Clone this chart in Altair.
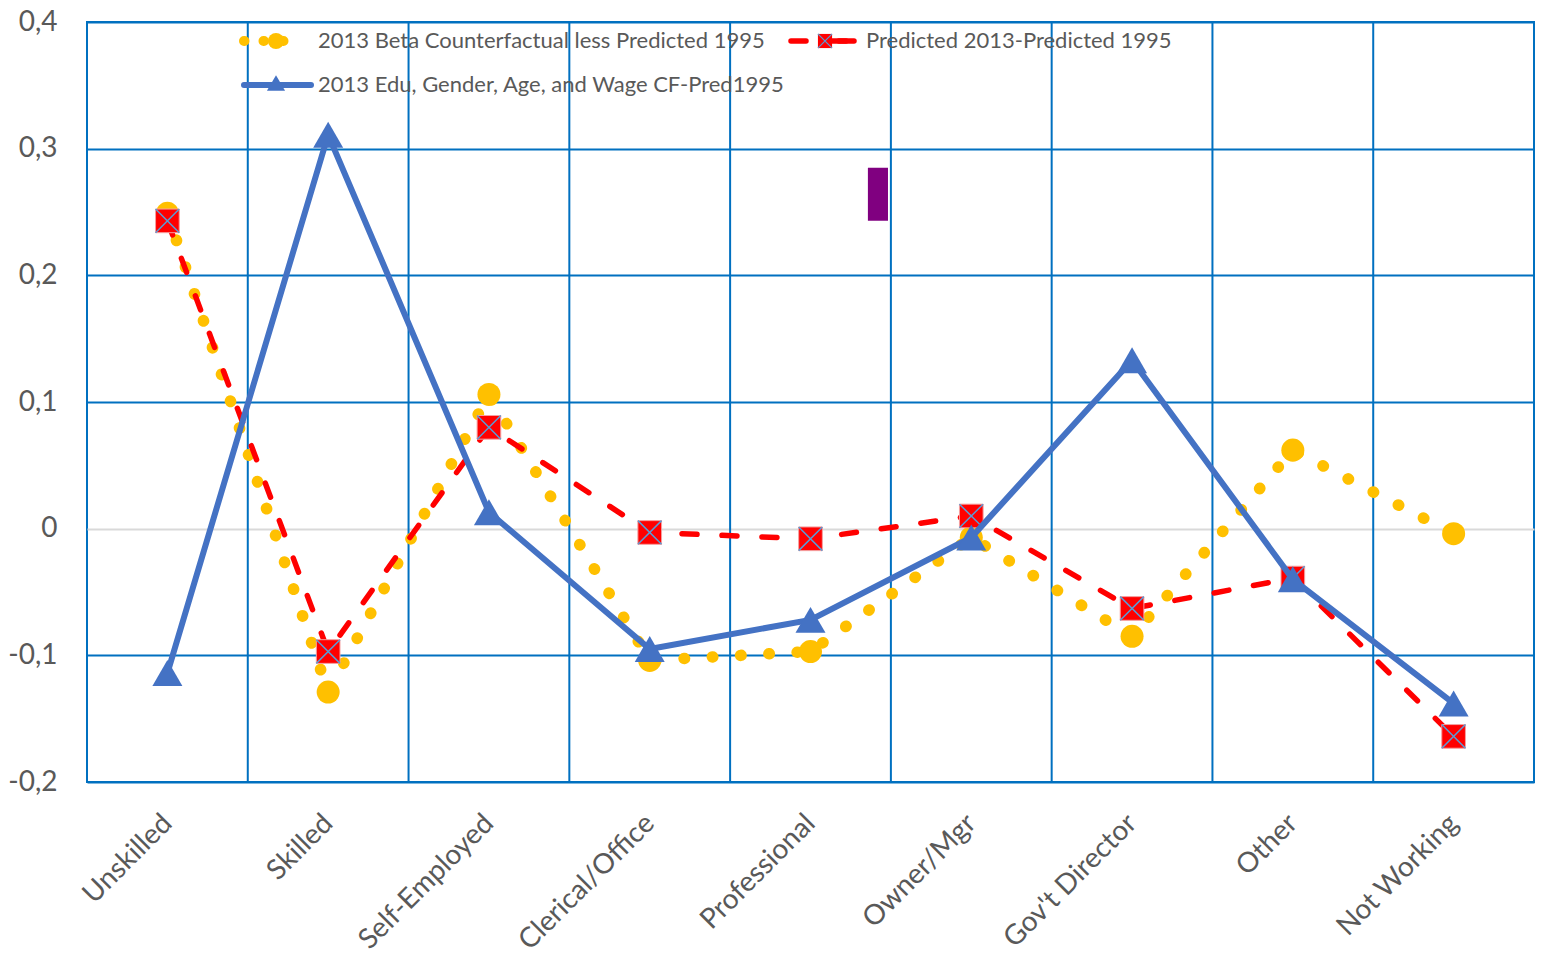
import json
import altair as alt
import pandas as pd

categories = ["Unskilled", "Skilled", "Self-Employed", "Clerical/Office", "Professional",
              "Owner/Mgr", "Gov't Director", "Other", "Not Working"]
beta_cf = [0.249, -0.129, 0.106, -0.104, -0.097, -0.007, -0.085, 0.062, -0.004]
predicted = [0.243, -0.097, 0.080, -0.003, -0.008, 0.010, -0.063, -0.039, -0.164]
edu_cf = [-0.114, 0.311, 0.013, -0.095, -0.072, -0.007, 0.133, -0.040, -0.138]
y_ticks = [-0.2, -0.1, 0.0, 0.1, 0.2, 0.3, 0.4]
boundaries = [1, 2, 3, 4, 5, 6, 7, 8]
purple_box = {"x0": [4.857], "x1": [4.982], "y0": [0.243], "y1": [0.285]}

names = ["2013 Beta Counterfactual less Predicted 1995",
         "Predicted 2013-Predicted 1995",
         "2013 Edu, Gender, Age, and Wage CF-Pred1995"]

BLUE_GRID = "#0070C0"
YELLOW = "#FFC000"
RED = "#FF0000"
BLUE = "#4472C4"
TEXT = "#595959"
FONT = "Lato"

df = pd.DataFrame({
    "pos": [i + 0.5 for i in range(len(categories))],
    "category": categories,
    "beta": beta_cf,
    "pred": predicted,
    "edu": edu_cf,
})

label_expr = json.dumps(categories) + "[floor(datum.value)]"
x_scale = alt.Scale(domain=[0, 9], nice=False, zero=False)
y_scale = alt.Scale(domain=[-0.2, 0.4], nice=False, zero=False)

x_axis = alt.Axis(values=[i + 0.5 for i in range(len(categories))], labelExpr=label_expr,
                  labelAngle=-45, labelAlign="right", labelBaseline="middle",
                  labelFont=FONT, labelFontSize=28, labelColor=TEXT, labelPadding=37,
                  grid=False, ticks=False, domain=False, title=None)
y_axis = alt.Axis(values=y_ticks,
                  labelExpr="abs(datum.value) < 1e-9 ? '0' : replace(replace(format(datum.value, '.1f'), '.', ','), '\u2212', '-')",
                  grid=True, gridWidth=2,
                  gridColor={"condition": {"test": "abs(datum.value) < 1e-9", "value": "#D9D9D9"}, "value": BLUE_GRID},
                  labelFont=FONT, labelFontSize=28, labelColor=TEXT, labelPadding=30,
                  ticks=False, domain=False, title=None)


def xq(field):
    return alt.X(field, scale=x_scale, axis=x_axis)


def yq(field):
    return alt.Y(field, scale=y_scale, axis=y_axis)


base = alt.Chart(df)

vgrid = alt.Chart(pd.DataFrame({"b": boundaries})).mark_rule(color=BLUE_GRID, strokeWidth=2).encode(
    x=xq("b:Q"))

purple = alt.Chart(pd.DataFrame(purple_box)).mark_rect(color="#800080").encode(
    x=xq("x0:Q"), x2="x1:Q", y=yq("y0:Q"), y2="y1:Q")

yellow_line = base.mark_line(color=YELLOW, strokeWidth=11.5, strokeDash=[0.5, 27.8], strokeCap="round").encode(
    x=xq("pos:Q"), y=yq("beta:Q"))
yellow_pts = base.mark_point(shape="circle", filled=True, color=YELLOW, size=530, opacity=1).encode(
    x=xq("pos:Q"), y=yq("beta:Q"))

red_line = base.mark_line(color=RED, strokeWidth=5.5, strokeDash=[15, 25], strokeCap="round").encode(
    x=xq("pos:Q"), y=yq("pred:Q"))
red_sq = base.mark_point(shape="square", filled=True, color=RED, size=560, opacity=1,
                         stroke="#F4A0A0", strokeWidth=1).encode(x=xq("pos:Q"), y=yq("pred:Q"))
red_x = base.mark_point(shape="M-1,-1L1,1M1,-1L-1,1", filled=False, color="#5B9BD5", size=560,
                        strokeWidth=1.5, opacity=1).encode(x=xq("pos:Q"), y=yq("pred:Q"))

blue_line = base.mark_line(color=BLUE, strokeWidth=6).encode(x=xq("pos:Q"), y=yq("edu:Q"))
blue_tri = base.mark_point(shape="triangle-up", filled=True, color=BLUE, size=900, opacity=1).encode(
    x=xq("pos:Q"), y=yq("edu:Q"))

one = alt.Chart(pd.DataFrame({"a": [0]}))
legend = [
    one.mark_rule(color=YELLOW, strokeWidth=10, strokeDash=[0.5, 19], strokeCap="round").encode(
        x=alt.value(157), x2=alt.value(215), y=alt.value(19)),
    one.mark_point(shape="circle", filled=True, color=YELLOW, size=260, opacity=1).encode(
        x=alt.value(189), y=alt.value(19)),
    one.mark_text(text=names[0], align="left", baseline="middle", font=FONT, fontSize=22, color=TEXT).encode(
        x=alt.value(231), y=alt.value(19)),
    one.mark_rule(color=RED, strokeWidth=5.5, strokeCap="round", strokeDash=[15, 25]).encode(
        x=alt.value(704), x2=alt.value(767), y=alt.value(19)),
    one.mark_rule(color=RED, strokeWidth=5.5, strokeCap="round").encode(
        x=alt.value(752), x2=alt.value(767), y=alt.value(19)),
    one.mark_point(shape="square", filled=True, color=RED, size=200, opacity=1).encode(
        x=alt.value(738), y=alt.value(19)),
    one.mark_point(shape="M-1,-1L1,1M1,-1L-1,1", filled=False, color="#5B9BD5", size=200,
                   strokeWidth=1.2, opacity=1).encode(x=alt.value(738), y=alt.value(19)),
    one.mark_text(text=names[1], align="left", baseline="middle", font=FONT, fontSize=22, color=TEXT).encode(
        x=alt.value(779), y=alt.value(19)),
    one.mark_rule(color=BLUE, strokeWidth=6, strokeCap="round").encode(
        x=alt.value(157), x2=alt.value(224), y=alt.value(63)),
    one.mark_point(shape="triangle-up", filled=True, color=BLUE, size=330, opacity=1).encode(
        x=alt.value(189), y=alt.value(61)),
    one.mark_text(text=names[2], align="left", baseline="middle", font=FONT, fontSize=22, color=TEXT).encode(
        x=alt.value(231), y=alt.value(63)),
]

chart = alt.layer(
    vgrid, yellow_line, purple, yellow_pts, red_line, red_sq, red_x, blue_line, blue_tri, *legend
).properties(
    width=1447, height=760,
    autosize=alt.AutoSizeParams(type="none"),
    padding={"left": 79, "top": 14, "right": 2, "bottom": 174},
    background="white",
).configure_view(stroke=BLUE_GRID, strokeWidth=2)

chart.save("out.html", embed_options={"renderer": "svg", "actions": False})
